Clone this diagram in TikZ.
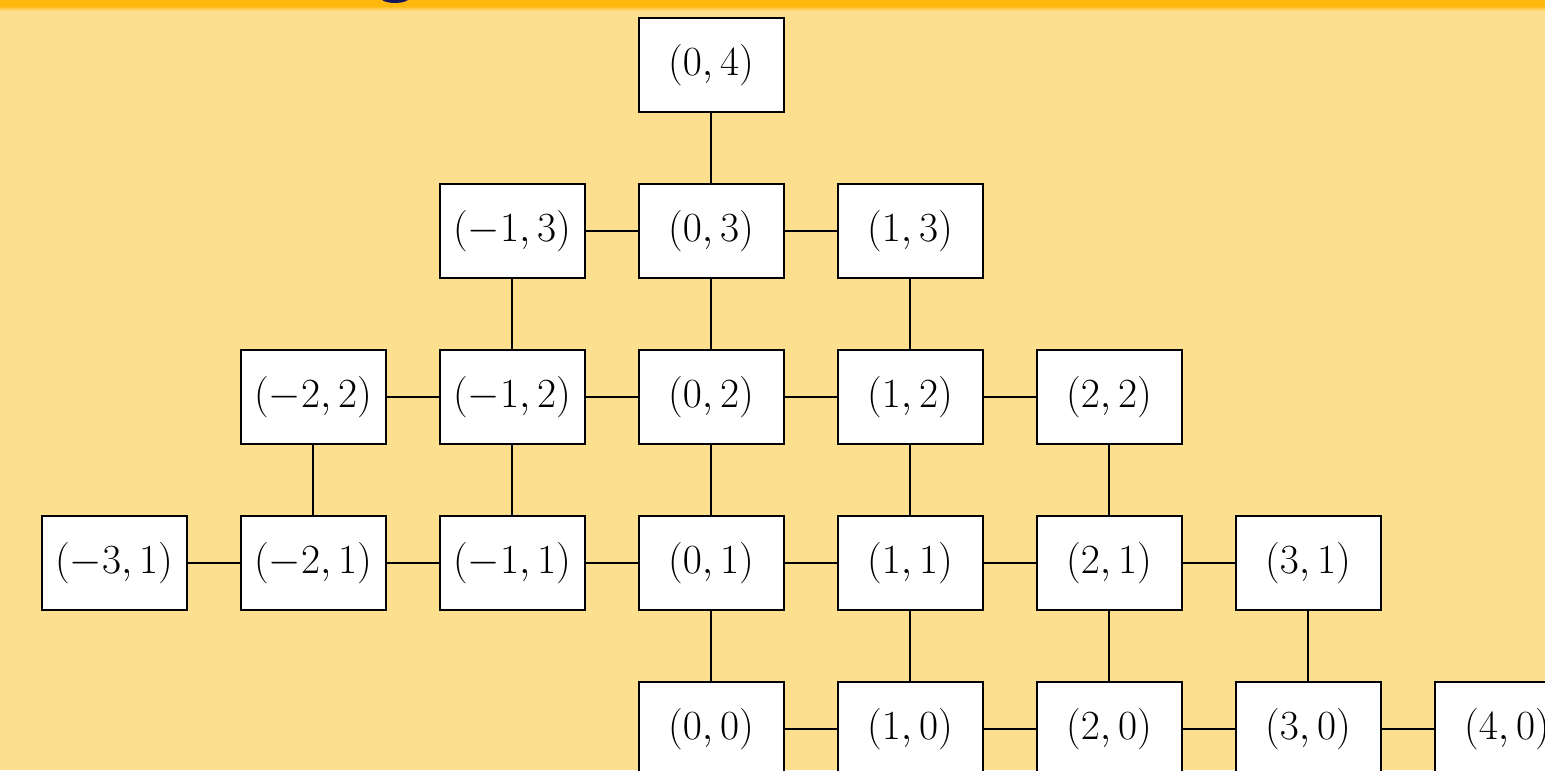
\documentclass[tikz,border=0pt]{standalone}
\usepackage{tikz}
\definecolor{bgyellow}{RGB}{253,224,143}
\definecolor{barorange}{RGB}{255,184,12}
\definecolor{navy}{RGB}{22,22,92}
\tikzset{
  cell/.style={draw=black, line width=1pt, fill=white, minimum width=72.5pt, minimum height=47pt, inner sep=0pt, font=\fontsize{22.3}{26}\selectfont},
  link/.style={draw=black, line width=0.75pt}
}
\begin{document}
\begin{tikzpicture}[x=0.5pt,y=-0.5pt]
\useasboundingbox (0,0) rectangle (1545,770);
\clip (0,0) rectangle (1545,770);
\fill[bgyellow] (0,0) rectangle (1545,770);
\shade[top color=barorange, bottom color=bgyellow] (0,6) rectangle (1545,11);
\fill[barorange] (0,0) rectangle (1545,6);
\fill[navy] (395,-4) ellipse (16 and 7);
% nodes
\foreach \i/\j/\lab in {0/4/{0,4},
  -1/3/{-1,3},0/3/{0,3},1/3/{1,3},
  -2/2/{-2,2},-1/2/{-1,2},0/2/{0,2},1/2/{1,2},2/2/{2,2},
  -3/1/{-3,1},-2/1/{-2,1},-1/1/{-1,1},0/1/{0,1},1/1/{1,1},2/1/{2,1},3/1/{3,1},
  0/0/{0,0},1/0/{1,0},2/0/{2,0},3/0/{3,0},4/0/{4,0}}
  \node[cell] (n\i_\j) at ({711+199*\i},{729-166*\j}) {$(\lab)$};
% horizontal links
\foreach \a/\b/\j in {-1/0/3,0/1/3,
  -2/-1/2,-1/0/2,0/1/2,1/2/2,
  -3/-2/1,-2/-1/1,-1/0/1,0/1/1,1/2/1,2/3/1,
  0/1/0,1/2/0,2/3/0,3/4/0}
  \draw[link] (n\a_\j) -- (n\b_\j);
% vertical links
\foreach \i/\a/\b in {0/4/3,
  -1/3/2,0/3/2,1/3/2,
  -2/2/1,-1/2/1,0/2/1,1/2/1,2/2/1,
  0/1/0,1/1/0,2/1/0,3/1/0}
  \draw[link] (n\i_\a) -- (n\i_\b);
\end{tikzpicture}
\end{document}
